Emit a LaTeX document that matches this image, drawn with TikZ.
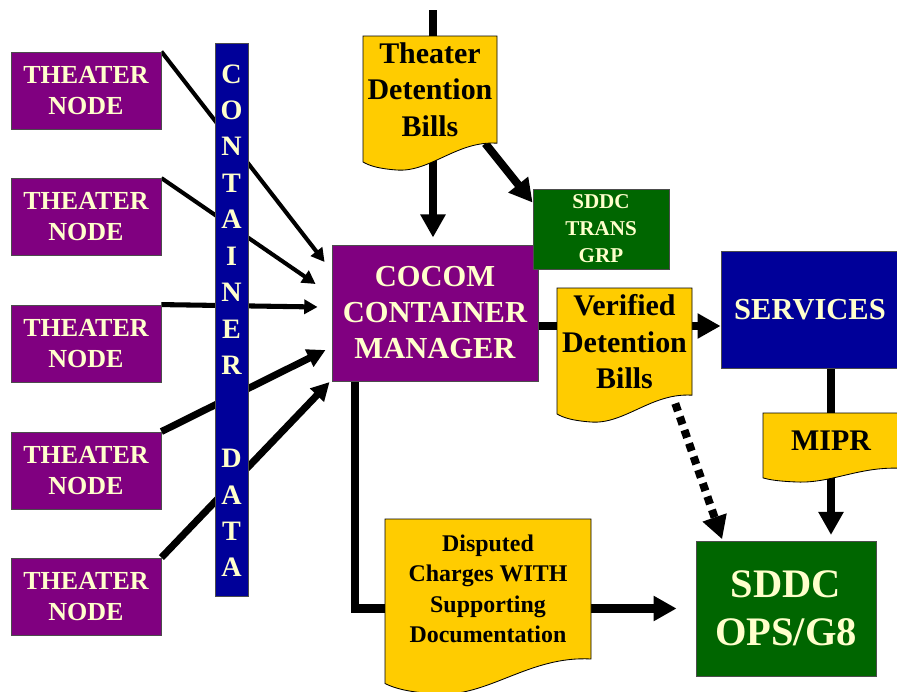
\documentclass[tikz,border=0pt]{standalone}
\usepackage{fontspec}
\setmainfont{Liberation Serif}
\usetikzlibrary{arrows.meta,backgrounds}

\definecolor{nodepurple}{HTML}{800080}
\definecolor{navyblue}{HTML}{000099}
\definecolor{darkgreen}{HTML}{006600}
\definecolor{billyellow}{HTML}{FFCC00}
\definecolor{cream}{HTML}{FFFFCC}

\newdimen\pxu \pxu=0.025cm
\newcommand{\billfont}{\bfseries\fontsize{21.3pt}{26pt}\selectfont}
\newcommand{\smallbillfont}{\bfseries\fontsize{17pt}{21.7pt}\selectfont}
% document shape: name, left, top, width, height, font, text
\newcommand{\docnode}[7]{%
  \filldraw[docshape] (#2,#3) -- ({#2+#4},#3) -- ({#2+#4},{#3+0.8*#5})
    .. controls ({#2+0.7*#4},{#3+0.78*#5}) and ({#2+0.5*#4},{#3+1.02*#5}) .. ({#2+0.25*#4},{#3+#5})
    .. controls ({#2+0.12*#4},{#3+0.99*#5}) and ({#2+0.05*#4},{#3+0.97*#5}) .. (#2,{#3+0.94*#5}) -- cycle;
  \node[doctext, font=#6, minimum width=#4*\pxu, minimum height={0.8*#5*\pxu}] (#1) at ({#2+0.5*#4},{#3+0.4*#5}) {#7};
}

\begin{document}
\begin{tikzpicture}[x=0.025cm, y=-0.025cm,
    box/.style = {draw=black!70, line width=0.6pt, text=cream, align=center, inner sep=0pt},
    theater/.style = {box, fill=nodepurple, minimum width=150*\pxu, minimum height=77*\pxu, font=\bfseries\fontsize{18.5pt}{22pt}\selectfont},
    docshape/.style = {fill=billyellow, draw=black, line width=0.6pt},
    doctext/.style = {align=center, inner sep=0pt},
    thinfeed/.style = {line width=2.9pt, -{Triangle[length=9.5pt,width=10pt]}},
    midfeed/.style = {line width=3.6pt, -{Triangle[length=9.5pt,width=10pt]}},
    thickfeed/.style = {line width=5pt, -{Triangle[length=13pt,width=13pt]}},
    flow/.style = {line width=5.7pt, -{Triangle[length=16.4pt,width=17pt]}},
    flowline/.style = {line width=5.7pt}]
    \useasboundingbox (0,0) rectangle (897,692);

    % theater nodes and the manager
    \node[theater] (th1) at (86,90.5) {THEATER\\NODE};
    \node[theater] (th2) at (86,217) {THEATER\\NODE};
    \node[theater] (th3) at (86,343.5) {THEATER\\NODE};
    \node[theater] (th4) at (86,470.5) {THEATER\\NODE};
    \node[theater] (th5) at (86,596.5) {THEATER\\NODE};
    \node[box, fill=nodepurple, minimum width=206*\pxu, minimum height=136*\pxu,
          font=\bfseries\fontsize{21.7pt}{25.6pt}\selectfont] (cocom) at (435,313) {COCOM\\CONTAINER\\MANAGER};
    \node[box, fill=darkgreen, minimum width=136*\pxu, minimum height=80*\pxu,
          font=\bfseries\fontsize{15pt}{19.2pt}\selectfont] (trans) at (601,229) {SDDC\\TRANS\\GRP};
    \node[box, fill=navyblue, minimum width=178*\pxu, minimum height=117*\pxu,
          font=\bfseries\fontsize{21.7pt}{26pt}\selectfont] (services) at (810,309.5) {SERVICES};
    \node[box, fill=darkgreen, minimum width=180*\pxu, minimum height=135*\pxu,
          font=\bfseries\fontsize{28.8pt}{34pt}\selectfont] (sddcops) at (786,608.5) {SDDC\\OPS/G8};

    % bills
    \docnode{tdb}{363}{36}{134}{134}{\billfont}{Theater\\Detention\\Bills}
    \docnode{vdb}{557}{288}{135}{134}{\billfont}{Verified\\Detention\\Bills}
    \docnode{mipr}{763}{413}{136}{69}{\billfont}{MIPR}
    \docnode{disputed}{385}{519}{206}{175}{\smallbillfont}{Disputed\\Charges WITH\\Supporting\\Documentation}

    % container data bar
    \node[box, fill=navyblue, minimum width=33*\pxu, minimum height=553*\pxu] (bar) at (231.5,319.5) {};
    \node[text=cream, align=center, inner sep=0pt, font=\bfseries\fontsize{20pt}{25.9pt}\selectfont] (container) at (231.5,219.5) {C\\O\\N\\T\\A\\I\\N\\E\\R};
    \node[text=cream, align=center, inner sep=0pt, font=\bfseries\fontsize{20pt}{25.9pt}\selectfont] (data) at (231.5,513) {D\\A\\T\\A};

    \coordinate (topin) at (433,10);
    \coordinate (vout) at ([shift={(0,13)}]cocom.east);

    \begin{scope}[on background layer]
    \draw[thinfeed] (th1.north east) -- ([shift={(-7,-51)}]cocom.west);
    \draw[thinfeed] (th2.north east) -- ([shift={(-16,-29)}]cocom.west);
    \draw[midfeed] (th3.north east) -- ([shift={(-14,-6)}]cocom.west);
    \draw[thickfeed] (th4.north east) -- ([shift={(-6,37)}]cocom.west);
    \draw[thickfeed] (th5.north east) -- ([shift={(-2,69)}]cocom.west);

    \draw[flowline] (topin) -- (topin |- tdb.center);
    \draw[flow, shorten >=5pt] (topin |- tdb.south) -- (topin |- cocom.north);
    \draw[flow] ([shift={(-12,0)}]tdb.south east) -- ([shift={(0,14)}]trans.north west);
    \draw[flow] (vout) -- (vout -| services.west);
    \draw[flow, shorten >=4pt] (mipr.north |- services.south) -- (mipr.north |- sddcops.north);
    \draw[flow, line cap=round, shorten >=13.5pt] ([shift={(23,0)}]cocom.south west) |- (sddcops.west);
    \draw[flow, dash pattern=on 5.7pt off 4.3pt, shorten >=1pt] ([shift={(-17,8)}]vdb.south east) -- ([shift={(27,0)}]sddcops.north west);
    \end{scope}
\end{tikzpicture}
\end{document}
